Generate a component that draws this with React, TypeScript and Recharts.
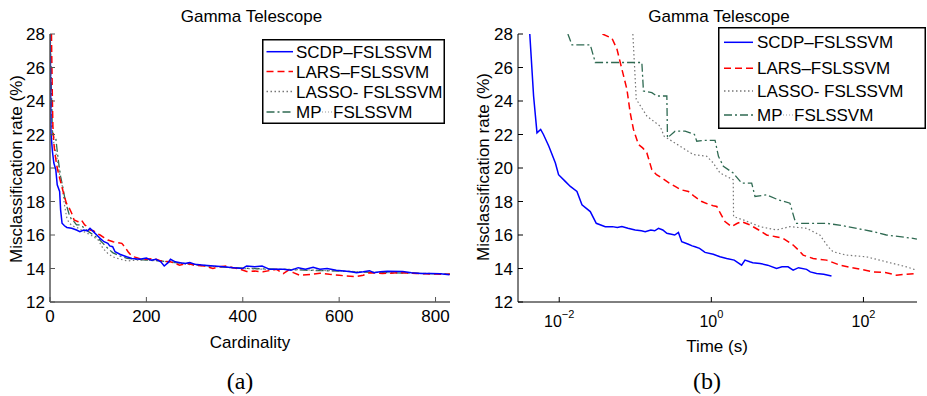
import React from 'react';
import { LineChart, Line, XAxis, YAxis, Legend } from 'recharts';

// Misclassification rate (%) vs cardinality, panel (a)
const scdpByCard = [
  [0, 28], [1, 26], [2, 22.1], [5, 21.0], [8, 20.3], [12, 19.9], [15, 19.0], [20, 18.6], [22, 17.5],
  [25, 16.7], [30, 16.55], [35, 16.45], [45, 16.4], [55, 16.3], [62, 16.2], [70, 16.3], [78, 16.25],
  [83, 16.4], [90, 16.2], [97, 16.0], [104, 15.8], [112, 15.6], [120, 15.5], [124, 15.35], [130, 15.3],
  [135, 15.0], [145, 14.85], [159, 14.7], [170, 14.6], [186, 14.55], [200, 14.62], [210, 14.5],
  [220, 14.55], [230, 14.4], [237, 14.15], [245, 14.35], [250, 14.55], [260, 14.4], [270, 14.35],
  [280, 14.3], [290, 14.35], [300, 14.25], [320, 14.2], [340, 14.15], [360, 14.1], [380, 14.05],
  [400, 14.0], [408, 14.15], [425, 14.1], [440, 14.15], [456, 13.95], [470, 13.95], [485, 13.95],
  [500, 13.9], [515, 14.05], [530, 13.95], [546, 14.07], [560, 13.95], [575, 14.0], [594, 13.9],
  [610, 13.85], [625, 13.8], [636, 13.75], [650, 13.8], [663, 13.87], [672, 13.75], [685, 13.8],
  [700, 13.83], [732, 13.82], [750, 13.75], [770, 13.7], [790, 13.7], [810, 13.68], [829, 13.62],
];
const larsByCard = [
  [3, 28], [4, 26], [5, 24], [6, 22.5], [8, 21.5], [10, 20.9], [15, 20.0], [20, 19.4], [28, 18.5],
  [34, 17.9], [40, 17.6], [45, 17.3], [50, 16.9], [58, 16.8], [65, 16.9], [72, 16.6], [78, 16.5],
  [83, 16.3], [90, 16.25], [97, 16.1], [104, 16.0], [112, 15.85], [120, 15.7], [131, 15.6],
  [140, 15.55], [149, 15.5], [155, 15.3], [162, 15.0], [168, 14.8], [173, 14.7], [180, 14.65],
  [190, 14.55], [200, 14.55], [215, 14.6], [230, 14.45], [250, 14.4], [269, 14.2], [285, 14.3],
  [300, 14.2], [320, 14.15], [338, 14.0], [350, 14.1], [366, 14.15], [380, 14.05], [395, 13.95],
  [408, 13.82], [425, 13.85], [442, 13.8], [460, 13.9], [470, 13.95], [484, 13.7], [495, 13.9],
  [505, 13.75], [518, 13.6], [540, 13.65], [560, 13.72], [580, 13.65], [600, 13.6], [615, 13.55],
  [636, 13.52], [650, 13.6], [663, 13.75], [690, 13.7], [725, 13.75], [760, 13.7], [794, 13.67],
  [830, 13.65],
];
const lassoByCard = [
  [1, 28], [2, 25], [4, 22.5], [8, 21.5], [15, 20.5], [20, 19.6], [25, 19.0], [30, 17.8], [35, 17.0],
  [40, 16.7], [50, 16.5], [60, 16.4], [70, 16.2], [85, 16.0], [100, 15.7], [110, 15.2], [120, 14.9],
  [130, 14.7], [140, 14.6], [160, 14.45], [180, 14.5], [200, 14.5], [230, 14.45], [260, 14.35],
  [300, 14.2], [350, 14.1], [400, 14.0], [450, 13.95], [500, 13.95], [550, 13.9], [600, 13.85],
  [650, 13.8], [700, 13.75], [750, 13.72], [800, 13.7], [830, 13.68],
];
const mpByCard = [
  [0, 28], [2, 26], [3, 24.5], [5, 22.2], [8, 21.8], [12, 21.8], [15, 21.0], [18, 20.3], [22, 19.5],
  [27, 18.8], [32, 18.0], [36, 17.6], [40, 17.2], [45, 16.9], [50, 16.8], [55, 16.6], [62, 16.6],
  [70, 16.45], [80, 16.2], [90, 16.0], [100, 15.8], [110, 15.5], [120, 15.2], [130, 14.95],
  [145, 14.75], [160, 14.6], [180, 14.55], [200, 14.5], [230, 14.45], [260, 14.35], [300, 14.25],
  [350, 14.1], [400, 14.02], [450, 13.97], [500, 13.93], [550, 13.88], [600, 13.85], [650, 13.78],
  [700, 13.75], [750, 13.72], [800, 13.68], [830, 13.66],
];

// Misclassification rate (%) vs time in seconds, panel (b)
const scdpByTime = [
  [0.0041, 28], [0.0046, 24.3], [0.0051, 22.1], [0.0057, 22.3], [0.0062, 22.0], [0.0073, 21.3],
  [0.0089, 20.3], [0.0098, 19.6], [0.012, 19.2], [0.014, 18.9], [0.0171, 18.6], [0.0199, 17.8],
  [0.0256, 17.4], [0.0307, 16.7], [0.0403, 16.5], [0.05, 16.5], [0.058, 16.45], [0.0667, 16.5],
  [0.08, 16.4], [0.0997, 16.3], [0.12, 16.25], [0.135, 16.2], [0.16, 16.3], [0.18, 16.25],
  [0.202, 16.4], [0.23, 16.3], [0.26, 16.1], [0.33, 16.0], [0.369, 16.15], [0.408, 15.6],
  [0.5, 15.45], [0.56, 15.35], [0.611, 15.3], [0.7, 15.2], [0.826, 14.96], [1.06, 14.85],
  [1.3, 14.7], [1.59, 14.6], [2.0, 14.5], [2.5, 14.2], [2.77, 14.5], [3.2, 14.4], [3.5, 14.35],
  [4.36, 14.3], [5.5, 14.2], [7.2, 14.0], [8.5, 14.1], [10.2, 14.1], [11.9, 13.9], [14, 14.05],
  [17.9, 13.95], [20, 13.8], [24.2, 13.7], [30, 13.65], [38, 13.55],
];
const larsByTime = [
  [0.037, 28], [0.0493, 27.75], [0.0574, 27.1], [0.0667, 25.9], [0.0776, 24.7], [0.0857, 23.3],
  [0.0947, 22.3], [0.11, 21.4], [0.125, 21.2], [0.142, 20.9], [0.165, 19.9], [0.19, 19.6],
  [0.224, 19.4], [0.28, 19.1], [0.334, 18.9], [0.4, 18.7], [0.499, 18.6], [0.6, 18.3], [0.748, 18.0],
  [0.9, 17.85], [1.06, 17.75], [1.18, 17.7], [1.35, 17.2], [1.51, 16.8], [1.85, 16.5], [2.2, 16.7],
  [2.5, 16.8], [3.22, 16.6], [4.2, 16.3], [5.33, 16.0], [7, 15.9], [8.8, 15.8], [11.9, 15.4],
  [14, 15.1], [16.1, 14.8], [21.8, 14.6], [32.7, 14.5], [48.9, 14.2], [80.9, 14.0], [134, 13.8],
  [200, 13.75], [271, 13.6], [350, 13.65], [497, 13.7],
];
const lassoByTime = [
  [0.0929, 28], [0.103, 24.1], [0.142, 23.1], [0.212, 22.5], [0.239, 21.9], [0.388, 21.3],
  [0.58, 20.8], [0.87, 20.7], [1.06, 20.3], [1.3, 19.7], [1.94, 19.3], [1.96, 17.1], [2.63, 16.9],
  [4.36, 16.5], [7.2, 16.3], [10.8, 16.5], [17.9, 16.4], [26.7, 16.0], [34.3, 15.3], [39.8, 15.0],
  [59.7, 14.8], [109, 14.7], [200, 14.4], [367, 14.1], [497, 13.9],
];
const mpByTime = [
  [0.013, 28], [0.0147, 27.35], [0.0256, 27.35], [0.0298, 26.3], [0.122, 26.3], [0.128, 24.6],
  [0.165, 24.5], [0.192, 24.3], [0.26, 24.3], [0.265, 21.8], [0.334, 22.2], [0.452, 22.2],
  [0.6, 22.0], [0.643, 21.6], [0.785, 21.65], [1.12, 21.65], [1.24, 20.7], [1.44, 20.1],
  [1.94, 19.7], [2.5, 19.1], [3.39, 19.1], [3.75, 18.3], [5.33, 18.4], [7.57, 18.1], [10.8, 17.9],
  [12.5, 16.9], [13.2, 16.7], [32.7, 16.7], [54, 16.55], [134, 16.2], [200, 16.0], [449, 15.8],
  [505, 15.75],
];

const seriesNames = ['SCDP–FSLSSVM', 'LARS–FSLSSVM', 'LASSO- FSLSSVM', 'MP FSLSSVM'];
const rateTicks = [12, 14, 16, 18, 20, 22, 24, 26, 28];
const cardTicks = [0, 200, 400, 600, 800];
const timeTicks = [0.01, 1, 100];

const FONT = '"Liberation Sans", Arial, Helvetica, sans-serif';
const styles = [
  { color: '#0000ff', dash: undefined, width: 1.5 },
  { color: '#ff0000', dash: '7 4', width: 1.5 },
  { color: '#777777', dash: '1.5 2.5', width: 1.2 },
  { color: '#2f6a52', dash: '8 3 2 3', width: 1.3 },
];

const toPoints = (pairs: number[][]) => pairs.map(([x, y]) => ({ x, y }));

const YTick = (props: any) => {
  const { x, y, payload, stroke } = props;
  return (
    <g>
      <line x1={x} y1={y} x2={x + 5} y2={y} stroke={stroke} />
      <text x={x - 5} y={y} dy={6} textAnchor="end" fontSize={17} fontFamily={FONT} fill="#000">
        {payload.value}
      </text>
    </g>
  );
};

const CardTick = (props: any) => {
  const { x, y, payload } = props;
  return (
    <g>
      <line x1={x} y1={y} x2={x} y2={y - 5} stroke="#555" />
      <text x={x} y={y + 20} textAnchor="middle" fontSize={17} fontFamily={FONT} fill="#000">
        {payload.value}
      </text>
    </g>
  );
};

const TimeTick = (props: any) => {
  const { x, y, payload } = props;
  const exp = Math.round(Math.log10(payload.value));
  return (
    <g>
      <line x1={x} y1={y} x2={x} y2={y - 5} stroke="#000" />
      <text x={x} y={y + 25} textAnchor="middle" fontFamily={FONT} fill="#000">
        <tspan fontSize={16}>10</tspan>
        <tspan fontSize={11} dy={-9}>{exp < 0 ? `−${-exp}` : `${exp}`}</tspan>
      </text>
    </g>
  );
};

const LegendBox = ({ w, h, rowY, lineX0, lineX1, textX }: any) => (
  <svg width={w} height={h} style={{ display: 'block' }}>
    <rect x={0.75} y={0.75} width={w - 1.5} height={h - 1.5} fill="#fff" stroke="#000" strokeWidth={1.5} />
    {seriesNames.map((name, i) => {
      const y = rowY[i];
      const st = styles[i];
      return (
        <g key={name}>
          <line x1={lineX0} y1={y} x2={lineX1} y2={y} stroke={st.color} strokeWidth={1.5} strokeDasharray={st.dash} />
          {i === 3 ? (
            <g>
              <text x={textX} y={y + 6} fontSize={17} fontFamily={FONT} fill="#000">MP</text>
              <line x1={textX + 26} y1={y} x2={textX + 36} y2={y} stroke="#999" strokeDasharray="1 2" />
              <text x={textX + 37} y={y + 6} fontSize={17} fontFamily={FONT} fill="#000">FSLSSVM</text>
            </g>
          ) : (
            <text x={textX} y={y + 6} fontSize={17} fontFamily={FONT} fill="#000">{name}</text>
          )}
        </g>
      );
    })}
  </svg>
);

const cardSeries = [scdpByCard, larsByCard, lassoByCard, mpByCard];
const timeSeries = [scdpByTime, larsByTime, lassoByTime, mpByTime];

export default function App() {
  return (
    <div style={{ position: 'absolute', left: 0, top: 0, width: 927, height: 396, background: '#fff', overflow: 'hidden' }}>
      <div style={{ position: 'absolute', left: 0, top: 0 }}>
        <LineChart width={460} height={396} margin={{ top: 34, right: 10, bottom: 0, left: 0 }}>
          <XAxis
            type="number"
            dataKey="x"
            domain={[0, 830]}
            ticks={cardTicks}
            interval={0}
            height={94}
            tickSize={0}
            tickMargin={0}
            tickLine={false}
            axisLine={{ stroke: '#555', strokeWidth: 1.5 }}
            tick={<CardTick />}
            allowDataOverflow
          />
          <YAxis
            type="number"
            domain={[12, 28]}
            ticks={rateTicks}
            interval={0}
            width={50}
            tickSize={0}
            tickMargin={0}
            tickLine={false}
            axisLine={{ stroke: '#555', strokeWidth: 1.5 }}
            tick={<YTick stroke="#555" />}
            allowDataOverflow
          />
          {cardSeries.map((s, i) => (
            <Line
              key={seriesNames[i]}
              data={toPoints(s)}
              dataKey="y"
              name={seriesNames[i]}
              type="linear"
              stroke={styles[i].color}
              strokeWidth={styles[i].width}
              strokeDasharray={styles[i].dash}
              dot={false}
              activeDot={false}
              isAnimationActive={false}
            />
          )).reverse()}
          <Legend
            layout="vertical"
            align="center"
            verticalAlign="middle"
            wrapperStyle={{ left: 262, top: 39, width: 183, height: 85 }}
            content={() => (
              <LegendBox w={183} h={85} rowY={[12.7, 32.5, 52.5, 73]} lineX0={4.5} lineX1={31} textX={34} />
            )}
          />
        </LineChart>
      </div>

      <div style={{ position: 'absolute', left: 460, top: 0 }}>
        <LineChart width={467} height={396} margin={{ top: 34, right: 10, bottom: 0, left: 0 }}>
          <XAxis
            type="number"
            dataKey="x"
            scale="log"
            domain={[0.00287, 506]}
            ticks={timeTicks}
            interval={0}
            height={94}
            tickSize={0}
            tickMargin={0}
            tickLine={false}
            axisLine={{ stroke: '#000' }}
            tick={<TimeTick />}
            allowDataOverflow
          />
          <YAxis
            type="number"
            domain={[12, 28]}
            ticks={rateTicks}
            interval={0}
            width={58}
            tickSize={0}
            tickMargin={0}
            tickLine={false}
            axisLine={{ stroke: '#000' }}
            tick={<YTick stroke="#000" />}
            allowDataOverflow
          />
          {timeSeries.map((s, i) => (
            <Line
              key={seriesNames[i]}
              data={toPoints(s)}
              dataKey="y"
              name={seriesNames[i]}
              type="linear"
              stroke={styles[i].color}
              strokeWidth={styles[i].width}
              strokeDasharray={styles[i].dash}
              dot={false}
              activeDot={false}
              isAnimationActive={false}
            />
          ))}
          <Legend
            layout="vertical"
            align="center"
            verticalAlign="middle"
            wrapperStyle={{ left: 258, top: 27, width: 208, height: 102 }}
            content={() => (
              <LegendBox w={208} h={102} rowY={[15.3, 41.3, 64, 88]} lineX0={6} lineX1={35} textX={39} />
            )}
          />
        </LineChart>
      </div>

      <svg width={927} height={396} style={{ position: 'absolute', left: 0, top: 0, pointerEvents: 'none' }}>
        <g fontFamily={FONT} fontSize={17} fill="#000">
          <text x={251.5} y={22} textAnchor="middle">Gamma Telescope</text>
          <text x={719} y={22} textAnchor="middle">Gamma Telescope</text>
          <text x={250} y={348} textAnchor="middle">Cardinality</text>
          <text x={717} y={352} textAnchor="middle">Time (s)</text>
          <text x={22} y={169} textAnchor="middle" transform="rotate(-90 22 169)">Misclassification rate (%)</text>
          <text x={489} y={167} textAnchor="middle" transform="rotate(-90 489 167)">Misclassification rate (%)</text>
        </g>
        <g fontFamily='"Liberation Serif", "Times New Roman", serif' fontSize={24} fill="#000">
          <text x={240} y={389} textAnchor="middle">(a)</text>
          <text x={707} y={389} textAnchor="middle">(b)</text>
        </g>
      </svg>
    </div>
  );
}
